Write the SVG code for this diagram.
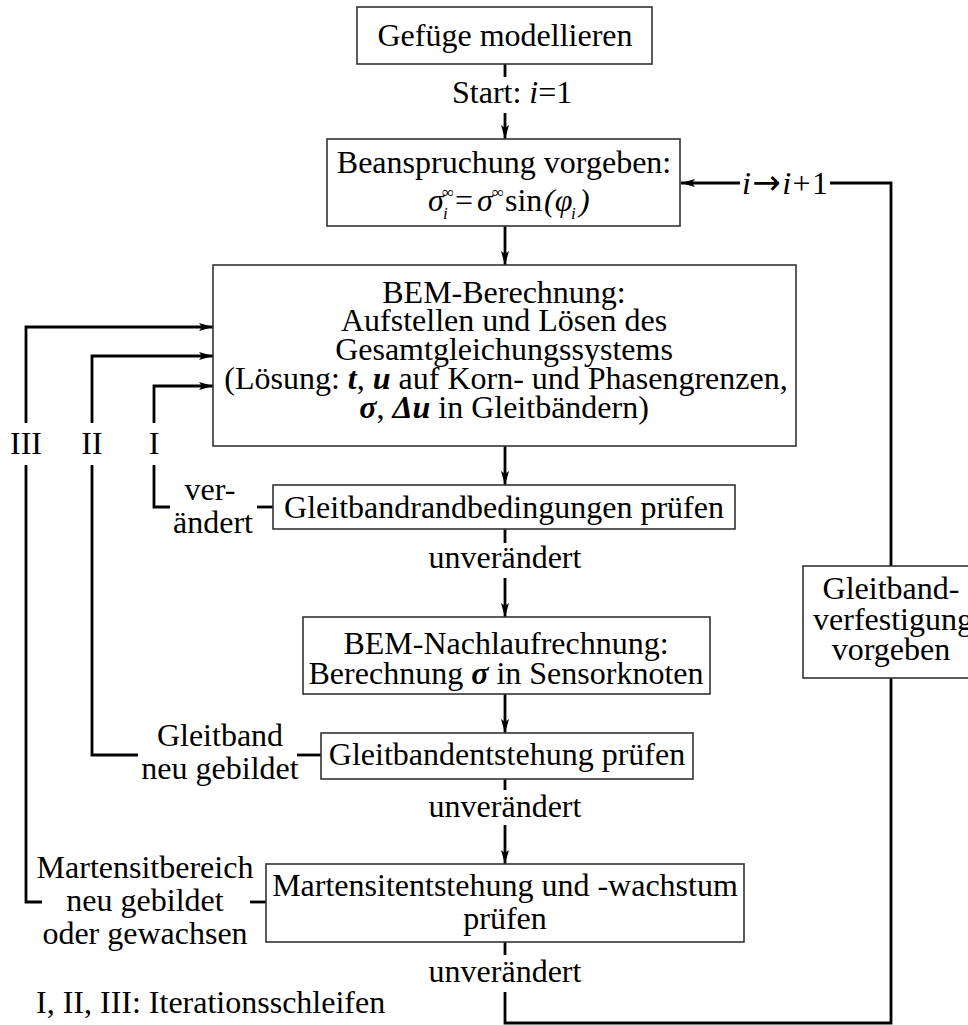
<svg xmlns="http://www.w3.org/2000/svg" width="968" height="1025" viewBox="0 0 968 1025">
<defs>
<marker id="arr" markerUnits="userSpaceOnUse" markerWidth="15" markerHeight="10" refX="14" refY="5" orient="auto">
<path d="M0,1 L14,5 L0,9 L3,5 Z" fill="#000"/>
</marker>
<style>
text{font-family:"Liberation Serif","Times New Roman",serif;font-size:32px;fill:#000}
.c{text-anchor:middle}
.it{font-style:italic}
.bi{font-style:italic;font-weight:bold}
.sm{font-size:17px}
.arw{font-family:"DejaVu Sans",sans-serif;font-size:34px}
.box{fill:#fff;stroke:#333;stroke-width:1.6}
.ln{fill:none;stroke:#000;stroke-width:2.8}
.ar{fill:none;stroke:#000;stroke-width:2.8;marker-end:url(#arr)}
</style>
</defs>
<rect width="968" height="1025" fill="#fff"/>
<g id="connectors">
<line class="ln" x1="505" y1="64" x2="505" y2="77"/>
<line class="ar" x1="505" y1="113" x2="505" y2="139"/>
<line class="ar" x1="505" y1="226" x2="505" y2="265"/>
<line class="ar" x1="505" y1="446" x2="505" y2="485"/>
<line class="ln" x1="505" y1="529" x2="505" y2="543"/>
<line class="ar" x1="505" y1="578" x2="505" y2="617"/>
<line class="ar" x1="505" y1="694" x2="505" y2="733"/>
<line class="ln" x1="505" y1="779" x2="505" y2="790"/>
<line class="ar" x1="505" y1="825" x2="505" y2="864"/>
<line class="ln" x1="505" y1="942" x2="505" y2="955"/>
<polyline class="ln" points="505,992 505,1023 891,1023 891,678"/>
<polyline class="ln" points="891,566 891,183 830,183"/>
<line class="ar" x1="740" y1="183" x2="681" y2="183"/>
<polyline class="ln" points="170,507 154,507 154,465"/>
<polyline class="ar" points="154,423 154,386 213,386"/>
<line class="ln" x1="257" y1="507" x2="273" y2="507"/>
<polyline class="ln" points="138,755 92,755 92,465"/>
<polyline class="ar" points="92,423 92,356 213,356"/>
<line class="ln" x1="297" y1="755" x2="321" y2="755"/>
<polyline class="ln" points="42,902 26,902 26,465"/>
<polyline class="ar" points="26,423 26,327 213,327"/>
<line class="ln" x1="250" y1="902" x2="266" y2="902"/>
</g>
<g id="labels">
<text x="452" y="103">Start: <tspan class="it">i</tspan>=1</text>
<text x="742" y="194" textLength="86" lengthAdjust="spacing"><tspan class="it">i</tspan><tspan class="arw">→</tspan><tspan class="it">i</tspan>+1</text>
<text class="c" x="26" y="454">III</text>
<text class="c" x="92" y="454">II</text>
<text class="c" x="154" y="454">I</text>
<text class="c" x="210" y="500">ver-</text>
<text class="c" x="213" y="533">ändert</text>
<text class="c" x="505" y="568">unverändert</text>
<text class="c" x="220" y="746">Gleitband</text>
<text class="c" x="220" y="779">neu gebildet</text>
<text class="c" x="505" y="817">unverändert</text>
<text class="c" x="145" y="878">Martensitbereich</text>
<text class="c" x="145" y="911">neu gebildet</text>
<text class="c" x="145" y="944">oder gewachsen</text>
<text class="c" x="505" y="982">unverändert</text>
<text x="36" y="1013">I, II, III: Iterationsschleifen</text>
</g>
<g id="n1">
<rect class="box" x="357" y="7" width="295" height="57"/>
<text class="c" x="505" y="46">Gefüge modellieren</text>
</g>
<g id="n2">
<rect class="box" x="327" y="139" width="353" height="87"/>
<text class="c" x="504" y="173">Beanspruchung vorgeben:</text>
<text class="it" x="428" y="211">σ</text>
<text class="it sm" x="443" y="219">i</text>
<text class="sm" x="442" y="198">∞</text>
<text x="455" y="211">=</text>
<text class="it" x="477" y="211">σ</text>
<text class="sm" x="492" y="198">∞</text>
<text x="505" y="211">sin</text>
<text class="it" x="544" y="211">(φ</text>
<text class="it sm" x="571" y="219">i</text>
<text class="it" x="579" y="211">)</text>
</g>
<g id="n3">
<rect class="box" x="213" y="265" width="583" height="181"/>
<text class="c" x="504" y="303">BEM-Berechnung:</text>
<text class="c" x="504" y="331">Aufstellen und Lösen des</text>
<text class="c" x="504" y="360">Gesamtgleichungssystems</text>
<text class="c" x="506" y="389">(Lösung: <tspan class="bi">t</tspan>, <tspan class="bi">u</tspan> auf Korn- und Phasengrenzen,</text>
<text class="c" x="504" y="418"><tspan class="bi">σ</tspan>, <tspan class="bi">Δu</tspan> in Gleitbändern)</text>
</g>
<g id="n4">
<rect class="box" x="273" y="485" width="462" height="44"/>
<text class="c" x="504" y="518">Gleitbandrandbedingungen prüfen</text>
</g>
<g id="n5">
<rect class="box" x="303" y="617" width="407" height="77"/>
<text class="c" x="506" y="654">BEM-Nachlaufrechnung:</text>
<text class="c" x="506" y="684">Berechnung <tspan class="bi">σ</tspan> in Sensorknoten</text>
</g>
<g id="n6">
<rect class="box" x="321" y="733" width="372" height="46"/>
<text class="c" x="507" y="765">Gleitbandentstehung prüfen</text>
</g>
<g id="n7">
<rect class="box" x="266" y="864" width="478" height="78"/>
<text class="c" x="505" y="896">Martensitentstehung und -wachstum</text>
<text class="c" x="505" y="929">prüfen</text>
</g>
<g id="n8">
<rect class="box" x="803" y="566" width="176" height="112"/>
<text class="c" x="891" y="599">Gleitband-</text>
<text class="c" x="893" y="630">verfestigung</text>
<text class="c" x="891" y="660">vorgeben</text>
</g>
</svg>
